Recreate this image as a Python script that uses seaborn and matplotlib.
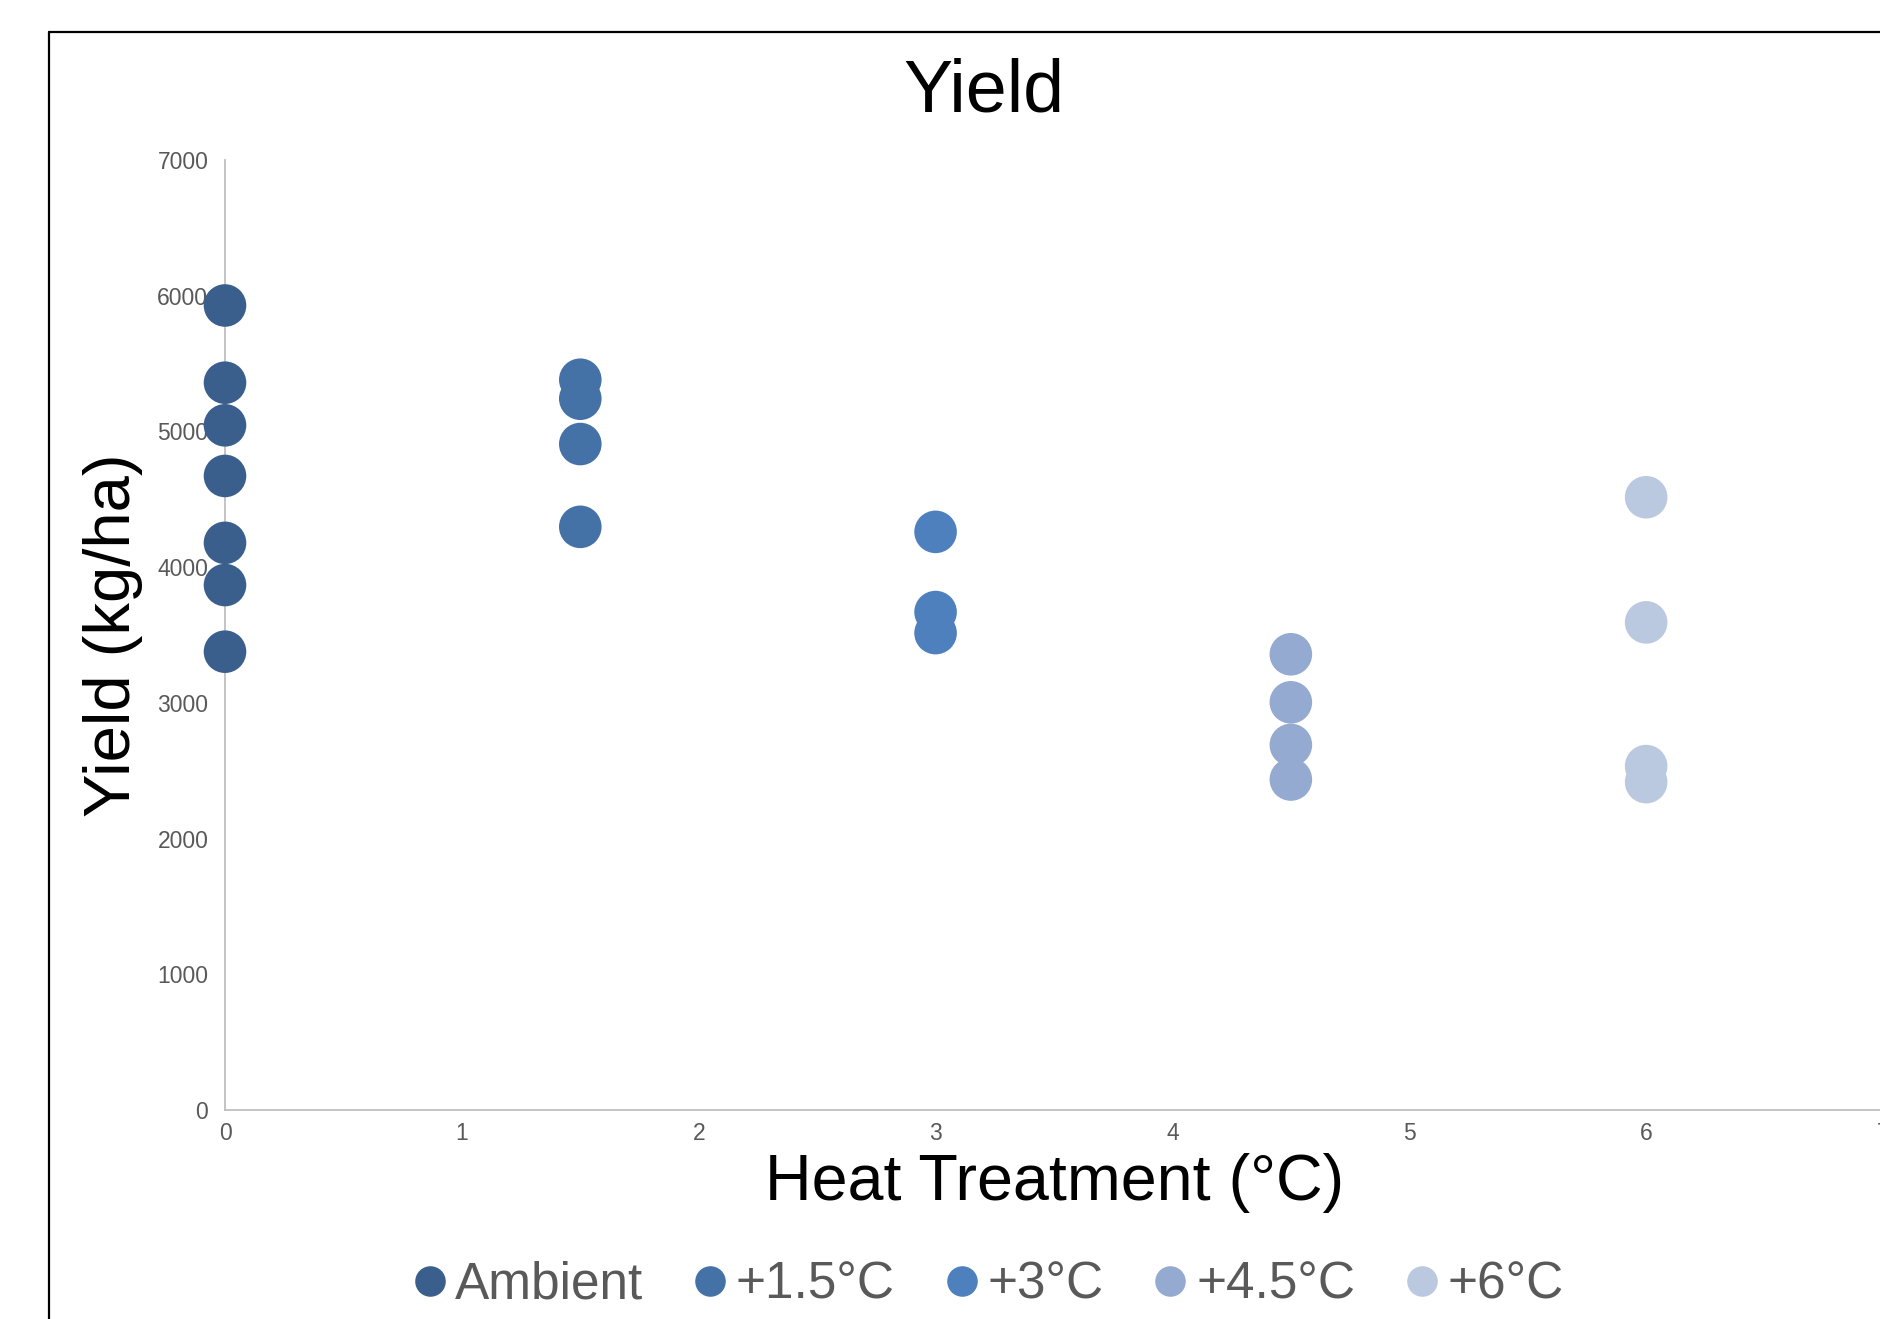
import pandas as pd
import matplotlib
matplotlib.use('Agg')
import matplotlib.pyplot as plt
from matplotlib.lines import Line2D
import seaborn as sns

sns.set_style('white')
plt.rcParams['font.family'] = ['Liberation Sans', 'DejaVu Sans']

# values
groups = ['Ambient', '+1.5°C', '+3°C', '+4.5°C', '+6°C']
heat = [0, 1.5, 3, 4.5, 6]
yield_ambient = [5928, 5359, 5045, 4672, 4179, 3868, 3377]
yield_15 = [5381, 5241, 4907, 4297]
yield_3 = [4260, 3669, 3514]
yield_45 = [3358, 3004, 2690, 2435]
yield_6 = [4515, 3593, 2534, 2416]
colors = ['#3B5F8C', '#4471A6', '#4D80BC', '#95AAD0', '#BAC8E0']
x_ticks = [0, 1, 2, 3, 4, 5, 6, 7]
y_ticks = [0, 1000, 2000, 3000, 4000, 5000, 6000, 7000]

rows = []
for g, h, vals in zip(groups, heat, [yield_ambient, yield_15, yield_3, yield_45, yield_6]):
    for v in vals:
        rows.append({'treatment': g, 'heat': h, 'yield': v})
data = pd.DataFrame(rows)

W, H = 1880, 1319
fig = plt.figure(figsize=(W / 100, H / 100), dpi=100)
ax = fig.add_axes([225 / W, (H - 1110) / H, (1883 - 225) / W, (1110 - 160) / H])

sns.scatterplot(data=data, x='heat', y='yield', hue='treatment', hue_order=groups,
                palette=colors, s=940, linewidth=0, alpha=1, ax=ax, legend=False,
                clip_on=False, zorder=3)

ax.set_xlim(0, 7)
ax.set_ylim(0, 7000)
ax.set_xticks(x_ticks)
ax.set_yticks(y_ticks)
ax.set_xlabel('')
ax.set_ylabel('')
ax.tick_params(axis='both', length=0, labelsize=16.5, labelcolor='#595959')
ax.tick_params(axis='x', pad=9)
ax.tick_params(axis='y', pad=12)
sns.despine(ax=ax)
for side in ['left', 'bottom']:
    ax.spines[side].set_color('#BFBFBF')
    ax.spines[side].set_linewidth(1.3)

fig.text(984 / W, 1 - 92 / H, 'Yield', fontsize=53, ha='center', va='center', color='black')
fig.text(1055 / W, 1 - 1183 / H, 'Heat Treatment (°C)', fontsize=46.5, ha='center',
         va='center', color='black')
fig.text(113 / W, 1 - 635 / H, 'Yield (kg/ha)', fontsize=47, rotation=90, ha='center',
         va='center', color='black')

handles = [Line2D([], [], marker='o', linestyle='', markersize=22, color=c, markeredgewidth=0)
           for c in colors]
leg = ax.legend(handles, groups, ncol=5, loc='center', bbox_to_anchor=(989 / W, 1 - 1285 / H),
                bbox_transform=fig.transFigure, frameon=False, fontsize=37,
                handlelength=0.6, handletextpad=0.2, columnspacing=1.0, borderpad=0)
for t in leg.get_texts():
    t.set_color('#595959')

# outer frame of the cropped chart
x0, ytop = 48.5 / W, 1 - 32 / H
fig.add_artist(Line2D([x0, x0], [-0.05, ytop], color='black', linewidth=1.6,
                      transform=fig.transFigure))
fig.add_artist(Line2D([x0, 1.05], [ytop, ytop], color='black', linewidth=1.6,
                      transform=fig.transFigure))

fig.savefig('out.png', dpi=100)
